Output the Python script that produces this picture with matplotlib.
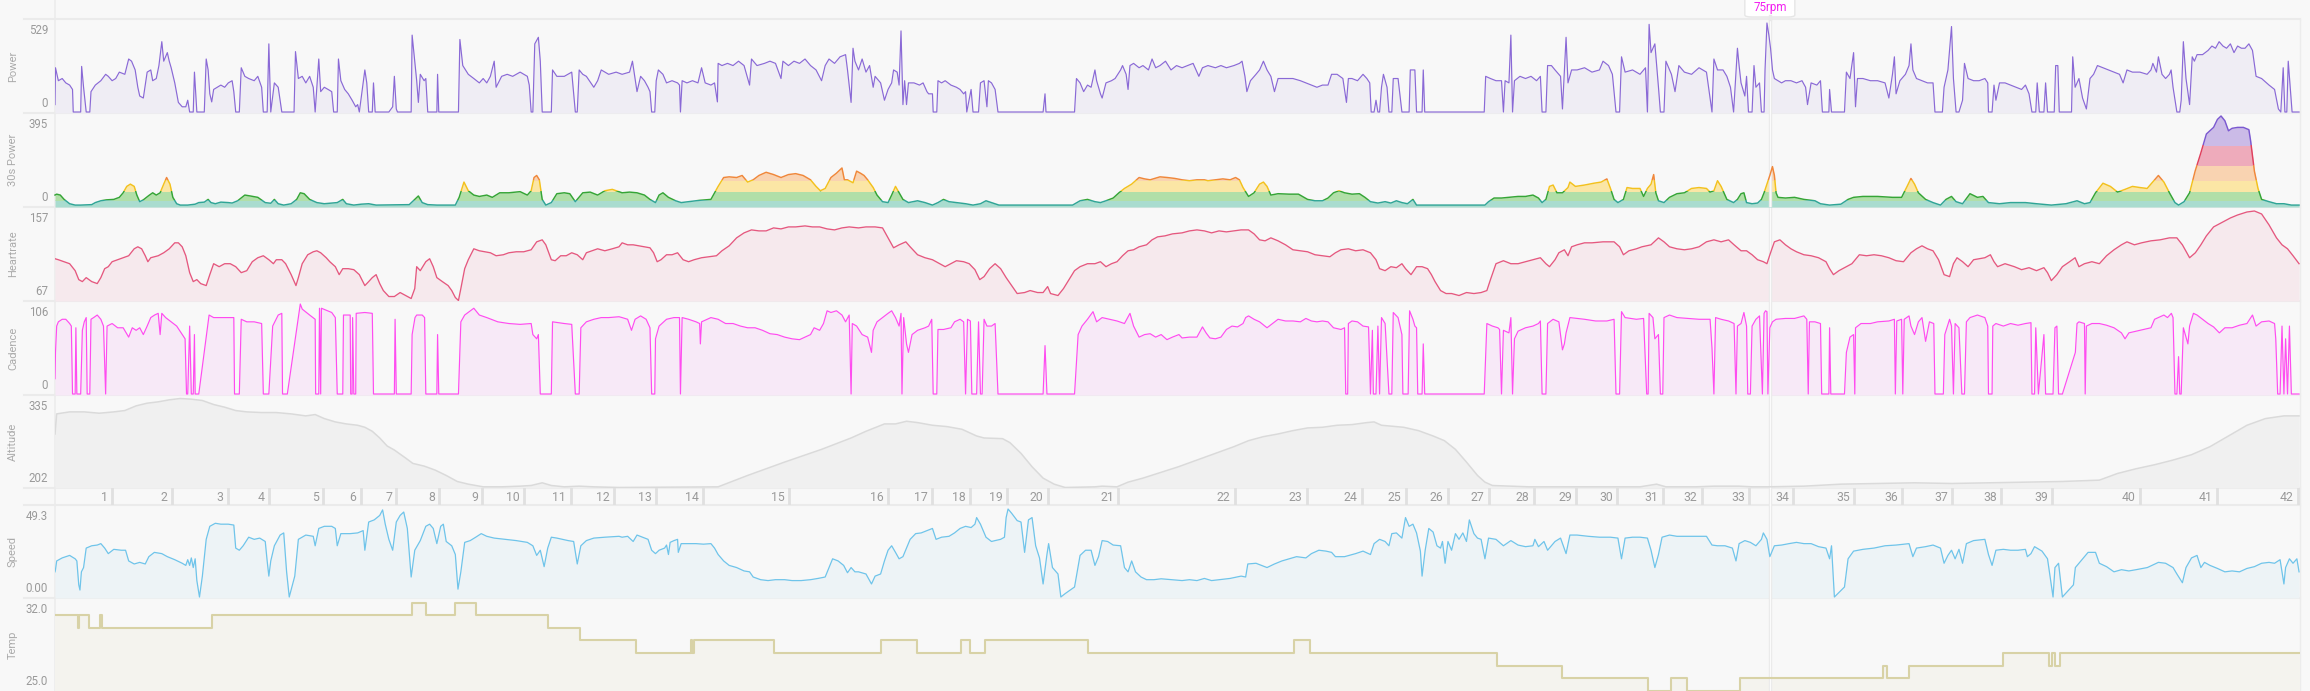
import numpy as np
import matplotlib
matplotlib.use("Agg")
import matplotlib.pyplot as plt
from matplotlib.patches import Rectangle, FancyBboxPatch
from matplotlib.lines import Line2D

plt.rcParams['font.family'] = ['Roboto', 'DejaVu Sans']

# ride length in minutes, lap ends in minutes
T_END = 93.54
lap_end = [2.38, 4.88, 7.19, 8.91, 11.16, 12.73, 14.22, 16.0, 17.81, 19.56, 21.48,
           23.31, 25.06, 26.99, 30.59, 34.69, 36.56, 38.14, 39.66, 41.36, 44.31,
           49.15, 52.15, 54.44, 56.29, 58.02, 59.73, 61.61, 63.38, 65.10, 66.99,
           68.62, 70.58, 72.42, 74.96, 76.96, 79.04, 81.08, 83.21, 86.88, 90.08, 93.46]
lap_names = [str(i + 1) for i in range(len(lap_end))]
marker_t = 71.45
marker_text = "75rpm"

# (minute, watts)
power = [
    (0.00, 44), (0.02, 263), (0.14, 186), (0.30, 199), (0.45, 173), (0.61, 160), (0.73, 134), (0.76, 0),
    (1.07, 0), (1.11, 271), (1.19, 147), (1.30, 0), (1.45, 0), (1.50, 121), (1.68, 160), (1.91, 186),
    (2.11, 224), (2.22, 212), (2.38, 186), (2.53, 199), (2.68, 237), (2.91, 224), (3.07, 315), (3.19, 302),
    (3.34, 250), (3.45, 147), (3.53, 95), (3.68, 83), (3.84, 237), (3.99, 250), (4.07, 186), (4.22, 199),
    (4.33, 276), (4.45, 418), (4.53, 302), (4.68, 353), (4.76, 302), (4.84, 263), (4.99, 173), (5.14, 57),
    (5.30, 31), (5.45, 31), (5.53, 70), (5.61, 0), (5.76, 0), (5.81, 237), (5.91, 0), (6.22, 0),
    (6.30, 315), (6.38, 250), (6.45, 108), (6.53, 60), (6.61, 134), (6.76, 147), (6.91, 160), (7.07, 147),
    (7.22, 173), (7.38, 186), (7.45, 121), (7.53, 0), (7.68, 0), (7.76, 263), (7.91, 212), (8.07, 199),
    (8.30, 186), (8.45, 212), (8.61, 147), (8.68, 0), (8.84, 0), (8.91, 405), (8.99, 0), (9.14, 173),
    (9.30, 147), (9.45, 0), (9.96, 0), (10.02, 359), (10.14, 199), (10.30, 212), (10.45, 173), (10.61, 212),
    (10.76, 147), (10.84, 0), (10.99, 315), (11.07, 121), (11.22, 147), (11.38, 134), (11.53, 121), (11.61, 0),
    (11.76, 0), (11.81, 315), (11.91, 186), (12.07, 134), (12.22, 108), (12.38, 70), (12.53, 31), (12.61, 44),
    (12.68, 0), (12.91, 250), (12.99, 173), (13.07, 0), (13.22, 0), (13.27, 173), (13.34, 0), (13.91, 0),
    (14.07, 31), (14.14, 212), (14.22, 18), (14.27, 0), (14.84, 0), (14.88, 457), (14.99, 302), (15.07, 186),
    (15.14, 57), (15.22, 224), (15.38, 186), (15.45, 199), (15.53, 0), (15.91, 0), (15.94, 224), (15.99, 0),
    (16.81, 0), (16.87, 431), (16.99, 276), (17.22, 224), (17.45, 199), (17.68, 173), (17.84, 199), (17.99, 173),
    (18.14, 212), (18.30, 302), (18.38, 147), (18.61, 212), (18.84, 224), (19.07, 212), (19.38, 237), (19.68, 212),
    (19.76, 160), (19.84, 0), (19.91, 0), (19.99, 405), (20.14, 444), (20.22, 302), (20.30, 0), (20.68, 0),
    (20.73, 250), (20.91, 212), (21.22, 212), (21.53, 237), (21.68, 0), (21.76, 0), (21.84, 250), (21.99, 224),
    (22.14, 212), (22.45, 147), (22.61, 186), (22.76, 250), (23.07, 224), (23.38, 237),
    (23.63, 224), (23.94, 237), (24.06, 302), (24.17, 199), (24.25, 121), (24.40, 212), (24.56, 186), (24.71, 147),
    (24.79, 121), (24.86, 0), (24.99, 0), (25.05, 186), (25.14, 250), (25.33, 224), (25.48, 173), (25.71, 186),
    (25.94, 173), (26.02, 160), (26.06, 0), (26.13, 186), (26.33, 173), (26.56, 186), (26.79, 173), (26.94, 263),
    (27.09, 173), (27.33, 160), (27.48, 173), (27.60, 60), (27.63, 289), (27.79, 276), (28.02, 289), (28.25, 276),
    (28.48, 302), (28.71, 276), (28.94, 160), (29.02, 315), (29.25, 276), (29.56, 289), (29.79, 302), (30.02, 289),
    (30.25, 199), (30.33, 302), (30.56, 276), (30.79, 302), (31.02, 289), (31.25, 315), (31.48, 276), (31.71, 250),
    (31.94, 186), (32.09, 276), (32.25, 315), (32.48, 289), (32.71, 328), (32.94, 341), (33.02, 250), (33.17, 57),
    (33.25, 379), (33.33, 302), (33.48, 250), (33.63, 315), (33.79, 237), (33.94, 276), (34.09, 147), (34.17, 212),
    (34.40, 173), (34.48, 121), (34.56, 70), (34.71, 134), (34.86, 173), (34.94, 250), (35.09, 237), (35.17, 160),
    (35.25, 482), (35.33, 44), (35.40, 186), (35.48, 44), (35.56, 173), (35.79, 173), (36.02, 160), (36.17, 173),
    (36.33, 121), (36.40, 108), (36.56, 108), (36.59, 0), (36.74, 0), (36.79, 186), (36.94, 173), (37.09, 186),
    (37.33, 160), (37.56, 147), (37.71, 134), (37.86, 108), (37.94, 121), (37.99, 0), (38.17, 134), (38.25, 0),
    (38.48, 0), (38.56, 173), (38.71, 186), (38.83, 31), (38.89, 186), (39.02, 173), (39.17, 134), (39.29, 0),
    (41.17, 0), (41.25, 108), (41.29, 0), (42.48, 0), (42.56, 199), (42.71, 173), (42.86, 121), (43.02, 160),
    (43.17, 147), (43.33, 250), (43.40, 186), (43.56, 108), (43.63, 83), (43.79, 173), (44.02, 186), (44.17, 199),
    (44.40, 250), (44.48, 276), (44.63, 224), (44.71, 134), (44.79, 276), (44.94, 289), (45.17, 263), (45.33, 276),
    (45.56, 250), (45.71, 315), (45.86, 263),
    (46.04, 276), (46.27, 302), (46.50, 250), (46.73, 276), (46.96, 263), (47.19, 276), (47.42, 289), (47.66, 212),
    (47.81, 263), (48.04, 276), (48.35, 263), (48.58, 276), (48.81, 263), (49.12, 276), (49.35, 289), (49.46, 302),
    (49.58, 212), (49.66, 121), (49.81, 186), (50.04, 224), (50.19, 250), (50.35, 302), (50.50, 250), (50.66, 212),
    (50.81, 121), (50.96, 199), (51.27, 199), (51.58, 199), (51.89, 186), (52.12, 173), (52.35, 160), (52.58, 147),
    (52.81, 160), (53.04, 160), (53.19, 224), (53.42, 224), (53.66, 199), (53.81, 57), (53.89, 199), (54.04, 199),
    (54.27, 186), (54.50, 224), (54.66, 199), (54.78, 173), (54.84, 0), (54.96, 0), (55.04, 70), (55.12, 0),
    (55.19, 0), (55.27, 147), (55.35, 224), (55.50, 147), (55.58, 0), (55.70, 0), (55.76, 199), (55.96, 199),
    (56.12, 0), (56.42, 0), (56.47, 250), (56.66, 250), (56.73, 0), (56.96, 0), (57.01, 250), (57.07, 0),
    (59.55, 0), (59.61, 212), (59.81, 199), (60.04, 186), (60.27, 186), (60.35, 0), (60.42, 186), (60.58, 173),
    (60.66, 457), (60.73, 0), (60.81, 186), (61.04, 212), (61.27, 199), (61.50, 212), (61.73, 186), (61.89, 212),
    (61.96, 0), (62.12, 0), (62.19, 276), (62.35, 276), (62.50, 250), (62.73, 212), (62.81, 18), (62.96, 444),
    (63.04, 173), (63.19, 250), (63.42, 250), (63.73, 263), (64.04, 237), (64.35, 250), (64.50, 302), (64.73, 276),
    (64.89, 224), (65.04, 0), (65.19, 0), (65.27, 328), (65.42, 237), (65.73, 250), (66.04, 224), (66.27, 263),
    (66.35, 0), (66.42, 521), (66.50, 353), (66.66, 405), (66.81, 147), (66.89, 0), (67.04, 0), (67.12, 302),
    (67.35, 224), (67.50, 121), (67.66, 276), (67.89, 237), (68.19, 224), (68.50, 263), (68.81, 237), (69.04, 0),
    (69.12, 315), (69.27, 250), (69.50, 250), (69.66, 212), (69.81, 147),
    (69.94, 0), (70.10, 379), (70.17, 276), (70.25, 173), (70.41, 95), (70.48, 212), (70.56, 0), (70.71, 0),
    (70.79, 276), (70.87, 147), (71.02, 173), (71.10, 0), (71.21, 0), (71.25, 250), (71.33, 529), (71.41, 457),
    (71.48, 379), (71.56, 250), (71.64, 199), (71.79, 186), (71.94, 173), (72.10, 186), (72.33, 186), (72.56, 173),
    (72.79, 186), (72.94, 147), (73.02, 44), (73.17, 173), (73.41, 160), (73.56, 186), (73.64, 0), (73.91, 0),
    (73.94, 134), (74.02, 0), (74.56, 0), (74.64, 237), (74.79, 199), (74.94, 353), (75.02, 31), (75.10, 199),
    (75.33, 199), (75.64, 186), (75.94, 186), (76.25, 173), (76.41, 83), (76.56, 224), (76.64, 328), (76.71, 108),
    (76.87, 186), (77.10, 224), (77.25, 276), (77.33, 405), (77.41, 250), (77.56, 199), (77.79, 186), (78.02, 173),
    (78.25, 173), (78.33, 0), (78.64, 0), (78.71, 147), (78.87, 250), (79.02, 508), (79.10, 199), (79.21, 0),
    (79.33, 0), (79.48, 70), (79.56, 289), (79.71, 199), (79.94, 186), (80.17, 186), (80.41, 199), (80.53, 173),
    (80.56, 0), (80.71, 0), (80.79, 160), (80.87, 70), (81.02, 173), (81.25, 173), (81.48, 160), (81.71, 147),
    (81.94, 134), (82.10, 160), (82.25, 108), (82.37, 0), (82.53, 0), (82.59, 173), (82.68, 0), (82.87, 0),
    (82.94, 173), (83.02, 0), (83.30, 0), (83.36, 276), (83.45, 276), (83.51, 0), (84.02, 0), (84.07, 328),
    (84.17, 147), (84.33, 199), (84.48, 83), (84.64, 18), (84.79, 199), (84.94, 224), (85.10, 276), (85.33, 263),
    (85.56, 250), (85.79, 237), (86.02, 224), (86.17, 173), (86.33, 250), (86.56, 237), (86.87, 237), (87.17, 224),
    (87.33, 250), (87.41, 289), (87.56, 237), (87.64, 328), (87.79, 224), (87.94, 199), (88.10, 224), (88.17, 250),
    (88.25, 147), (88.41, 0), (88.53, 0), (88.59, 70), (88.68, 418), (88.79, 199), (88.94, 44), (89.05, 328),
    (89.14, 302), (89.25, 341), (89.48, 341), (89.71, 366), (89.87, 392), (90.02, 379), (90.17, 418), (90.33, 392),
    (90.48, 379), (90.64, 405), (90.79, 353), (90.94, 392), (91.10, 379), (91.25, 379), (91.41, 405), (91.56, 366),
    (91.71, 212), (91.94, 199), (92.25, 160), (92.48, 134), (92.64, 18), (92.74, 0), (92.84, 263), (92.91, 0),
    (92.99, 0), (93.05, 302), (93.21, 0), (93.50, 0),
]

# (minute, 30 s average watts)
power30 = [
    (0.00, 48), (0.07, 52), (0.22, 48), (0.38, 29), (0.61, 10), (0.84, 4), (1.07, 4), (1.53, 6), (1.68, 15),
    (1.91, 23), (2.14, 27), (2.45, 29), (2.68, 38), (2.84, 58), (2.99, 86), (3.14, 96), (3.30, 86), (3.41, 48),
    (3.53, 19), (3.68, 27), (3.91, 46), (4.07, 58), (4.22, 48), (4.38, 58), (4.53, 96), (4.65, 125), (4.79, 96),
    (4.91, 38), (5.07, 10), (5.22, 4), (5.53, 4), (5.84, 8), (5.99, 15), (6.22, 17), (6.38, 29), (6.50, 15),
    (6.68, 10), (6.91, 17), (7.22, 15), (7.38, 13), (7.61, 23), (7.91, 48), (8.14, 44), (8.45, 38), (8.76, 15),
    (8.99, 12), (9.14, 29), (9.30, 10), (9.53, 4), (9.84, 10), (10.07, 29), (10.22, 58), (10.38, 54), (10.61, 29),
    (10.91, 15), (11.22, 10), (11.53, 13), (11.76, 15), (11.99, 29), (12.14, 10), (12.45, 4), (12.76, 8), (13.07, 10),
    (13.38, 4), (14.76, 6), (14.99, 29), (15.14, 44), (15.30, 15), (15.53, 6), (15.91, 4), (16.68, 4), (16.84, 38),
    (17.04, 105), (17.22, 67), (17.45, 48), (17.68, 42), (17.99, 48), (18.22, 38), (18.53, 58), (18.91, 58),
    (19.38, 63), (19.68, 48), (19.84, 67), (19.96, 125), (20.07, 134), (20.18, 115), (20.30, 29), (20.45, 4),
    (20.68, 15), (20.91, 54), (21.22, 58), (21.45, 54), (21.68, 19), (21.99, 58), (22.30, 61), (22.61, 48),
    (22.91, 67), (23.22, 73), (23.63, 58), (23.94, 61), (24.25, 58), (24.56, 48), (24.79, 29), (25.02, 15),
    (25.17, 48), (25.33, 58), (25.56, 38), (25.86, 23), (26.09, 15), (26.40, 19), (26.86, 25), (27.33, 29),
    (27.48, 58), (27.63, 86), (27.86, 125), (28.09, 128), (28.40, 125), (28.63, 134), (28.86, 105), (29.09, 115),
    (29.33, 134), (29.63, 148), (29.94, 138), (30.25, 125), (30.56, 138), (30.86, 142), (31.17, 134), (31.48, 115),
    (31.71, 86), (31.89, 67), (32.09, 77), (32.33, 125), (32.56, 144), (32.79, 167), (32.89, 115), (33.02, 115),
    (33.25, 102), (33.40, 153), (33.56, 144), (33.71, 134), (33.86, 115), (34.09, 81), (34.25, 48), (34.48, 19),
    (34.71, 15), (34.86, 48), (35.02, 86), (35.17, 58), (35.33, 29), (35.56, 15), (35.94, 23), (36.25, 15),
    (36.56, 4), (36.79, 15), (37.02, 29), (37.25, 19), (37.56, 15), (37.94, 10), (38.25, 4), (38.56, 10),
    (38.79, 23), (39.02, 15), (39.33, 4), (42.40, 4), (42.71, 23), (43.02, 29), (43.33, 19), (43.56, 15),
    (43.79, 23), (44.09, 35), (44.33, 58), (44.56, 77), (44.86, 96), (45.17, 125), (45.40, 119), (45.63, 115),
    (45.94, 125), (46.04, 128), (46.35, 125), (46.66, 121), (46.96, 115), (47.27, 111), (47.58, 115), (47.89, 115),
    (48.04, 111), (48.35, 115), (48.66, 119), (48.96, 115), (49.19, 125), (49.35, 115), (49.50, 81), (49.73, 42),
    (49.96, 58), (50.19, 96), (50.35, 105), (50.50, 86), (50.66, 48), (50.96, 54), (51.42, 52), (51.81, 52),
    (52.19, 29), (52.50, 23), (52.81, 23), (53.04, 35), (53.27, 58), (53.50, 67), (53.73, 58), (54.04, 52),
    (54.35, 54), (54.58, 38), (54.81, 19), (55.12, 13), (55.42, 19), (55.66, 13), (55.89, 23), (56.12, 15),
    (56.35, 10), (56.58, 29), (56.73, 4), (57.12, 4), (59.58, 4), (59.73, 19), (59.96, 35), (60.27, 35),
    (60.58, 38), (60.96, 42), (61.27, 42), (61.58, 48), (61.81, 35), (61.96, 15), (62.12, 29), (62.27, 86),
    (62.42, 92), (62.58, 58), (62.81, 58), (63.04, 81), (63.12, 105), (63.35, 86), (63.73, 92), (64.12, 100),
    (64.42, 105), (64.66, 119), (64.81, 77), (64.96, 29), (65.12, 15), (65.35, 29), (65.50, 81), (65.73, 77),
    (66.04, 77), (66.19, 42), (66.35, 77), (66.50, 96), (66.61, 138), (66.70, 58), (66.81, 23), (67.04, 15),
    (67.27, 38), (67.58, 54), (67.89, 58), (68.19, 77), (68.50, 81), (68.81, 77), (68.96, 61), (69.12, 67),
    (69.27, 111), (69.42, 86), (69.66, 29), (69.94, 15), (70.10, 29), (70.25, 54), (70.37, 58), (70.48, 15),
    (70.71, 10), (70.94, 13), (71.10, 29), (71.21, 58), (71.33, 96), (71.45, 134), (71.56, 173), (71.64, 134),
    (71.71, 58), (71.79, 38), (72.10, 35), (72.48, 38), (72.87, 29), (73.33, 23), (73.56, 10), (73.94, 4),
    (74.41, 8), (74.71, 29), (74.94, 38), (75.33, 42), (75.94, 42), (76.56, 38), (76.94, 38), (77.17, 86),
    (77.33, 121), (77.48, 96), (77.64, 58), (77.94, 29), (78.25, 15), (78.56, 4), (78.79, 29), (79.02, 42),
    (79.21, 19), (79.48, 10), (79.79, 54), (80.10, 38), (80.33, 42), (80.56, 15), (81.02, 10), (81.48, 15),
    (82.10, 15), (82.56, 10), (83.18, 4), (83.79, 10), (84.25, 23), (84.56, 10), (84.79, 15), (85.02, 58),
    (85.33, 100), (85.64, 86), (85.94, 61), (86.25, 73), (86.56, 86), (86.87, 81), (87.17, 77), (87.48, 115),
    (87.64, 134), (87.87, 105), (88.10, 58), (88.33, 15), (88.48, 4), (88.71, 19), (88.94, 58), (89.17, 153),
    (89.40, 230), (89.64, 316), (89.94, 345), (90.10, 380), (90.25, 395), (90.41, 374), (90.56, 330), (90.71, 341),
    (90.94, 345), (91.18, 345), (91.41, 335), (91.48, 288), (91.64, 153), (91.79, 77), (91.94, 29), (92.25, 19),
    (92.56, 10), (92.87, 10), (93.18, 4), (93.50, 4),
]
zone_top = [26, 65, 113, 180, 269]

# (minute, bpm)
heartrate = [
    (0.00, 109), (0.14, 108), (0.38, 106), (0.61, 104), (0.84, 97), (0.99, 88), (1.14, 86), (1.30, 90), (1.53, 86),
    (1.76, 84), (1.91, 90), (2.07, 99), (2.22, 101), (2.38, 106), (2.61, 108), (2.84, 110), (3.07, 112), (3.30, 119),
    (3.45, 121), (3.61, 119), (3.76, 112), (3.87, 106), (3.99, 110), (4.30, 112), (4.53, 115), (4.76, 119), (4.99, 125),
    (5.14, 125), (5.30, 121), (5.45, 112), (5.61, 95), (5.76, 86), (5.91, 88), (6.07, 84), (6.30, 82), (6.45, 93),
    (6.61, 104), (6.84, 101), (7.07, 104), (7.30, 104), (7.53, 101), (7.76, 95), (7.99, 97), (8.22, 106), (8.45, 110),
    (8.68, 112), (8.91, 108), (9.10, 104), (9.22, 108), (9.45, 108), (9.61, 104), (9.84, 93), (10.04, 82), (10.14, 90),
    (10.30, 104), (10.53, 113), (10.76, 116), (10.91, 117), (11.07, 115), (11.30, 110), (11.45, 106), (11.68, 101),
    (11.84, 93), (11.99, 99), (12.22, 99), (12.45, 98), (12.68, 93), (12.91, 82), (13.07, 86), (13.22, 90), (13.38, 93),
    (13.53, 84), (13.68, 77), (13.91, 71), (14.14, 71), (14.38, 75), (14.61, 72), (14.84, 69), (14.99, 79), (15.07, 101),
    (15.22, 97), (15.45, 106), (15.61, 109), (15.76, 101), (15.91, 90), (16.14, 86), (16.38, 82), (16.53, 77),
    (16.68, 70), (16.81, 67), (16.91, 79), (17.07, 99), (17.22, 108), (17.45, 119), (17.68, 117), (17.91, 116),
    (18.14, 115), (18.38, 112), (18.68, 113), (18.91, 115), (19.22, 116), (19.53, 116), (19.84, 118), (20.07, 126),
    (20.30, 128), (20.45, 123), (20.68, 108), (20.84, 107), (21.07, 112), (21.30, 112), (21.53, 115), (21.76, 113),
    (21.99, 108), (22.14, 115), (22.38, 117), (22.61, 119), (22.91, 117), (23.22, 119), (23.50, 121),
    (23.63, 125), (23.86, 123), (24.09, 123), (24.33, 122), (24.56, 121), (24.79, 120), (24.94, 115), (25.09, 106),
    (25.25, 108), (25.48, 113), (25.71, 113), (25.94, 115), (26.17, 108), (26.40, 106), (26.63, 108), (26.94, 110),
    (27.25, 111), (27.56, 112), (27.79, 117), (28.09, 122), (28.40, 130), (28.71, 135), (29.02, 138), (29.33, 137),
    (29.63, 137), (29.94, 140), (30.25, 139), (30.56, 141), (30.86, 141), (31.25, 142), (31.56, 141), (31.86, 141),
    (32.17, 139), (32.48, 138), (32.79, 140), (33.09, 141), (33.48, 140), (33.79, 141), (34.17, 141), (34.48, 140),
    (34.71, 130), (34.94, 120), (35.17, 123), (35.45, 126), (35.63, 121), (35.94, 113), (36.25, 110), (36.56, 108),
    (36.86, 104), (37.09, 101), (37.33, 104), (37.56, 107), (37.86, 106), (38.09, 104), (38.33, 98), (38.53, 88),
    (38.71, 91), (38.94, 99), (39.17, 104), (39.40, 99), (39.63, 90), (39.86, 82), (40.09, 74), (40.40, 75),
    (40.63, 77), (40.94, 75), (41.17, 75), (41.36, 81), (41.48, 74), (41.79, 72), (42.02, 79), (42.25, 88),
    (42.48, 97), (42.71, 101), (43.02, 104), (43.33, 104), (43.56, 106), (43.79, 101), (44.02, 104), (44.25, 106),
    (44.48, 112), (44.71, 117), (44.94, 118), (45.17, 121), (45.48, 123), (45.71, 128), (45.94, 131), (46.25, 132),
    (46.56, 134), (46.96, 135), (47.27, 137), (47.58, 138), (47.89, 137), (48.19, 135), (48.50, 137), (48.81, 136),
    (49.12, 137), (49.42, 138), (49.73, 138), (49.96, 134), (50.19, 128), (50.42, 127), (50.66, 130), (50.96, 127),
    (51.27, 123), (51.58, 118), (51.89, 117), (52.19, 116), (52.50, 113), (52.81, 112), (53.12, 111), (53.35, 115),
    (53.58, 118), (53.89, 119), (54.19, 117), (54.50, 118), (54.81, 115), (55.04, 108), (55.19, 99), (55.42, 97),
    (55.66, 101), (55.89, 100), (56.12, 104), (56.27, 99), (56.50, 93), (56.73, 101), (56.96, 101), (57.19, 99),
    (57.35, 93), (57.50, 86), (57.73, 77), (57.96, 74), (58.19, 74), (58.50, 72), (58.81, 75), (59.12, 74),
    (59.42, 75), (59.66, 77), (59.81, 88), (60.04, 104), (60.35, 107), (60.66, 104), (60.96, 104), (61.27, 106),
    (61.58, 108), (61.89, 110), (62.12, 104), (62.27, 101), (62.50, 108), (62.66, 115), (62.89, 118), (63.04, 112),
    (63.19, 121), (63.42, 123), (63.73, 125), (64.04, 125), (64.50, 126), (64.96, 126), (65.19, 121), (65.35, 113),
    (65.58, 117), (65.89, 119), (66.12, 121), (66.50, 123), (66.81, 130), (67.04, 126), (67.27, 121), (67.58, 119),
    (67.89, 118), (68.19, 119), (68.50, 121), (68.81, 126), (69.12, 128), (69.42, 126), (69.73, 128), (69.96, 123),
    (70.25, 117), (70.48, 117), (70.71, 113), (70.94, 108), (71.18, 106), (71.33, 104), (71.48, 115), (71.64, 126),
    (71.87, 128), (72.10, 123), (72.33, 119), (72.56, 116), (72.87, 113), (73.17, 112), (73.48, 110), (73.79, 106),
    (73.94, 99), (74.10, 93), (74.33, 97), (74.56, 100), (74.87, 104), (75.18, 113), (75.48, 112), (75.79, 113),
    (76.10, 112), (76.41, 110), (76.71, 107), (77.02, 106), (77.33, 115), (77.56, 119), (77.79, 122), (78.02, 119),
    (78.25, 117), (78.48, 108), (78.71, 93), (78.94, 91), (79.10, 104), (79.25, 110), (79.48, 106), (79.71, 101),
    (79.94, 108), (80.17, 109), (80.41, 110), (80.64, 113), (80.79, 106), (80.94, 101), (81.25, 104), (81.64, 101),
    (81.94, 98), (82.25, 100), (82.56, 97), (82.87, 100), (83.02, 95), (83.18, 87), (83.41, 93), (83.64, 101),
    (83.94, 106), (84.17, 110), (84.33, 101), (84.56, 104), (84.87, 106), (85.18, 104), (85.48, 112), (85.79, 118),
    (86.10, 123), (86.33, 126), (86.64, 123), (86.94, 125), (87.33, 127), (87.71, 128), (88.10, 130), (88.41, 130),
    (88.64, 123), (88.94, 110), (89.18, 115), (89.41, 123), (89.64, 132), (89.94, 141), (90.25, 145), (90.64, 150),
    (90.94, 153), (91.33, 156), (91.64, 157), (91.94, 154), (92.25, 143), (92.56, 130), (92.79, 123), (93.02, 119),
    (93.25, 112), (93.50, 104),
]

# (minute, rpm)
cadence = [
    (0.00, 18), (0.02, 49), (0.07, 80), (0.14, 85), (0.30, 88), (0.45, 88), (0.61, 83), (0.68, 80), (0.73, 0),
    (0.84, 0), (0.87, 78), (0.91, 0), (1.07, 0), (1.14, 75), (1.22, 85), (1.30, 90), (1.34, 0), (1.45, 0),
    (1.50, 88), (1.61, 90), (1.76, 93), (1.91, 88), (2.02, 80), (2.11, 0), (2.17, 80), (2.38, 83), (2.61, 78),
    (2.84, 78), (3.07, 67), (3.22, 78), (3.38, 75), (3.53, 78), (3.68, 70), (3.84, 80), (3.99, 90), (4.15, 93),
    (4.30, 95), (4.38, 70), (4.45, 95), (4.61, 90), (4.84, 85), (5.07, 80), (5.30, 70), (5.42, 65), (5.48, 0),
    (5.53, 0), (5.61, 80), (5.68, 0), (5.76, 0), (5.81, 70), (5.84, 0), (5.99, 0), (6.42, 93), (6.61, 90),
    (6.91, 90), (7.22, 90), (7.45, 90), (7.48, 0), (7.68, 0), (7.76, 88), (7.99, 85), (8.30, 85), (8.61, 83),
    (8.68, 0), (8.91, 0), (9.07, 80), (9.30, 93), (9.45, 95), (9.48, 0), (9.68, 0), (10.22, 106), (10.30, 100),
    (10.61, 93), (10.84, 88), (10.86, 0), (10.99, 0), (11.02, 101), (11.07, 0), (11.10, 101), (11.53, 96),
    (11.68, 90), (11.76, 0), (11.99, 0), (12.02, 93), (12.30, 93), (12.32, 0), (12.38, 0), (12.40, 90), (12.45, 0),
    (12.53, 0), (12.55, 95), (12.91, 96), (13.22, 95), (13.27, 0), (14.14, 0), (14.17, 88), (14.22, 0), (14.84, 0),
    (14.88, 70), (15.00, 90), (15.07, 93), (15.30, 93), (15.40, 90), (15.45, 0), (15.91, 0), (15.94, 70), (15.99, 0),
    (16.81, 0), (16.91, 85), (17.07, 93), (17.45, 101), (17.68, 93), (17.99, 90), (18.45, 85), (18.91, 83),
    (19.38, 82), (19.84, 83), (19.91, 70), (20.07, 65), (20.14, 70), (20.22, 0), (20.68, 0), (20.73, 85),
    (21.22, 83), (21.53, 82), (21.68, 0), (21.84, 0), (21.91, 78), (22.14, 85), (22.45, 88), (22.76, 90),
    (23.07, 90), (23.50, 91),
    (23.63, 90), (23.86, 88), (24.02, 75), (24.17, 88), (24.40, 92), (24.63, 88), (24.79, 78), (24.86, 0),
    (24.99, 0), (25.02, 65), (25.17, 80), (25.48, 88), (25.79, 90), (26.02, 90), (26.06, 0), (26.13, 90),
    (26.40, 88), (26.71, 85), (26.86, 83), (26.89, 59), (26.94, 85), (27.33, 90), (27.63, 88), (27.94, 83),
    (28.25, 83), (28.56, 80), (28.86, 78), (29.17, 78), (29.48, 75), (29.79, 71), (30.09, 70), (30.40, 67),
    (30.71, 65), (31.02, 64), (31.25, 67), (31.48, 70), (31.63, 78), (31.86, 75), (32.02, 83), (32.17, 98),
    (32.33, 96), (32.56, 98), (32.79, 93), (32.94, 85), (33.09, 93), (33.17, 0), (33.22, 83), (33.40, 80),
    (33.63, 70), (33.86, 67), (34.02, 49), (34.09, 75), (34.25, 85), (34.48, 90), (34.71, 95), (34.86, 98),
    (35.02, 90), (35.17, 80), (35.25, 95), (35.29, 0), (35.36, 90), (35.48, 59), (35.56, 49), (35.71, 70),
    (35.94, 75), (36.25, 78), (36.40, 80), (36.53, 88), (36.59, 0), (36.74, 0), (36.79, 76), (37.02, 76),
    (37.33, 78), (37.48, 85), (37.71, 88), (37.86, 85), (37.94, 0), (38.02, 88), (38.14, 86), (38.20, 0),
    (38.40, 0), (38.48, 85), (38.56, 0), (38.63, 0), (38.71, 88), (38.83, 80), (39.02, 80), (39.17, 83),
    (39.29, 0), (41.17, 0), (41.25, 57), (41.33, 0), (42.48, 0), (42.63, 70), (42.79, 80), (43.02, 88),
    (43.25, 97), (43.40, 85), (43.63, 90), (43.94, 88), (44.25, 86), (44.56, 83), (44.79, 95), (44.94, 80),
    (45.17, 67), (45.40, 70), (45.63, 71), (45.86, 67), (46.09, 70), (46.33, 64), (46.56, 67), (46.83, 70),
    (46.96, 66), (47.27, 67), (47.58, 67), (47.81, 79), (47.96, 72), (48.12, 66), (48.35, 65), (48.58, 67),
    (48.81, 76), (49.04, 80), (49.27, 79), (49.50, 83), (49.61, 90), (49.73, 92), (49.96, 88), (50.19, 85),
    (50.50, 78), (50.73, 83), (50.96, 88), (51.27, 86), (51.58, 86), (51.89, 85), (52.12, 89), (52.35, 86),
    (52.58, 85), (52.81, 86), (53.04, 85), (53.27, 78), (53.58, 76), (53.73, 78), (53.78, 0), (53.86, 0),
    (53.89, 83), (54.04, 86), (54.27, 85), (54.50, 80), (54.73, 79), (54.81, 0), (54.89, 75), (54.93, 0),
    (55.04, 0), (55.12, 80), (55.19, 0), (55.27, 90), (55.42, 83), (55.58, 0), (55.70, 0), (55.76, 96),
    (55.96, 90), (56.12, 70), (56.16, 0), (56.38, 0), (56.44, 98), (56.58, 88), (56.66, 80), (56.73, 78),
    (56.78, 0), (56.96, 0), (57.01, 59), (57.07, 0), (59.55, 0), (59.66, 83), (59.89, 80), (60.12, 78),
    (60.19, 76), (60.27, 0), (60.35, 75), (60.58, 72), (60.66, 90), (60.73, 0), (60.81, 65), (60.96, 74),
    (61.27, 78), (61.58, 80), (61.81, 83), (61.89, 86), (61.96, 0), (62.12, 0), (62.19, 83), (62.42, 88),
    (62.66, 85), (62.81, 52), (62.89, 59), (62.96, 72), (63.12, 90), (63.42, 89), (63.73, 88), (64.19, 86),
    (64.66, 86), (64.96, 88), (65.04, 0), (65.19, 0), (65.27, 97), (65.42, 90), (65.89, 88), (66.19, 89),
    (66.32, 0), (66.38, 0), (66.42, 95), (66.58, 90), (66.66, 65), (66.81, 70), (66.89, 0), (66.99, 0),
    (67.04, 90), (67.27, 93), (67.58, 90), (68.04, 89), (68.50, 88), (68.96, 88), (69.04, 54), (69.12, 0),
    (69.19, 90), (69.42, 88), (69.73, 86), (69.96, 83), (70.04, 0),
    (70.10, 80), (70.25, 83), (70.37, 96), (70.48, 80), (70.53, 0), (70.64, 0), (70.71, 80), (70.87, 88),
    (71.02, 92), (71.14, 0), (71.21, 95), (71.27, 98), (71.33, 97), (71.37, 0), (71.45, 78), (71.56, 85),
    (71.71, 88), (72.10, 89), (72.48, 89), (72.87, 92), (72.99, 88), (73.05, 0), (73.10, 85), (73.33, 85),
    (73.56, 83), (73.61, 0), (73.91, 0), (73.94, 78), (73.99, 0), (74.56, 0), (74.64, 49), (74.79, 67),
    (74.94, 70), (74.99, 0), (75.02, 78), (75.25, 83), (75.64, 83), (75.94, 85), (76.41, 86), (76.64, 88),
    (76.68, 0), (76.74, 86), (76.94, 88), (76.99, 0), (77.05, 88), (77.25, 92), (77.33, 80), (77.48, 70),
    (77.64, 85), (77.79, 90), (77.94, 62), (78.10, 85), (78.28, 83), (78.33, 0), (78.68, 0), (78.74, 70),
    (78.94, 88), (79.02, 80), (79.10, 0), (79.17, 83), (79.33, 78), (79.45, 0), (79.56, 0), (79.64, 85),
    (79.79, 90), (80.10, 93), (80.41, 90), (80.53, 80), (80.56, 0), (80.71, 0), (80.74, 80), (80.87, 83),
    (81.18, 80), (81.48, 83), (81.79, 81), (82.10, 83), (82.33, 84), (82.37, 0), (82.48, 0), (82.53, 78),
    (82.64, 0), (82.87, 70), (82.94, 0), (83.25, 0), (83.33, 78), (83.41, 80), (83.48, 0), (83.64, 0),
    (84.18, 49), (84.25, 83), (84.33, 85), (84.56, 83), (84.59, 0), (84.64, 80), (84.87, 83), (85.18, 83),
    (85.48, 81), (85.79, 78), (86.10, 72), (86.25, 65), (86.41, 72), (86.71, 74), (87.02, 76), (87.33, 78),
    (87.48, 88), (87.64, 90), (87.87, 93), (88.02, 90), (88.18, 95), (88.25, 90), (88.33, 0), (88.41, 0),
    (88.48, 44), (88.53, 0), (88.59, 0), (88.68, 78), (88.87, 59), (88.94, 80), (89.10, 95), (89.25, 93),
    (89.48, 88), (89.71, 83), (89.94, 79), (90.18, 72), (90.41, 78), (90.71, 78), (91.02, 81), (91.33, 83),
    (91.56, 93), (91.71, 80), (91.94, 85), (92.25, 86), (92.48, 83), (92.53, 65), (92.61, 0), (92.71, 0),
    (92.79, 80), (92.87, 0), (92.94, 65), (93.02, 0), (93.10, 80), (93.18, 0), (93.50, 0),
]

# (minute, metres)
altitude = [
    (0.00, 282), (0.07, 312), (0.61, 315), (1.22, 315), (1.84, 313), (2.45, 315), (2.91, 317), (3.38, 324),
    (3.84, 328), (4.30, 330), (4.76, 333), (5.22, 335), (5.68, 334), (6.14, 332), (6.61, 326), (7.07, 322),
    (7.53, 317), (7.99, 315), (8.61, 314), (9.22, 314), (9.84, 312), (10.45, 309), (10.84, 311), (11.22, 305),
    (11.68, 300), (12.14, 297), (12.61, 295), (12.91, 292), (13.22, 286), (13.53, 276), (13.84, 264), (14.14, 258),
    (14.61, 246), (14.91, 238), (15.38, 234), (15.84, 228), (16.30, 220), (16.76, 211), (17.22, 207), (17.84, 203),
    (18.61, 203), (19.38, 204), (19.84, 205), (20.30, 209), (20.68, 205), (21.22, 203), (21.84, 204), (22.45, 203),
    (23.50, 202), (27.63, 203), (28.86, 220), (30.40, 240), (31.94, 259), (33.17, 276), (33.79, 286), (34.56, 297),
    (35.02, 297), (35.48, 301), (35.94, 299), (36.56, 295), (37.17, 293), (37.79, 289), (38.40, 279), (38.71, 276),
    (39.48, 275), (39.79, 269), (40.25, 253), (40.71, 233), (41.17, 216), (41.63, 207), (42.09, 202), (43.33, 203),
    (43.63, 204), (44.25, 203), (44.71, 210), (45.33, 216), (45.94, 223), (46.81, 233), (47.58, 243), (48.35, 253),
    (49.12, 263), (49.73, 272), (50.35, 278), (50.96, 282), (51.58, 287), (52.19, 291), (52.81, 292), (53.42, 295),
    (54.04, 296), (54.66, 299), (54.96, 300), (55.27, 295), (55.89, 293), (56.19, 292), (56.81, 287), (57.42, 279),
    (57.89, 272), (58.35, 259), (58.81, 240), (59.27, 220), (59.58, 210), (59.89, 205), (60.66, 204), (61.42, 203),
    (62.96, 203), (64.50, 203), (66.04, 203), (66.73, 207), (67.12, 203), (68.35, 203), (69.12, 204), (70.16, 204),
    (70.71, 203), (71.33, 203), (72.87, 204), (74.41, 207), (75.94, 208), (77.48, 209), (79.02, 208), (80.56, 209),
    (82.10, 210), (83.64, 211), (85.18, 213), (85.94, 223), (86.71, 230), (87.48, 236), (88.25, 243), (89.02, 251),
    (89.79, 263), (90.56, 279), (91.33, 295), (92.10, 305), (92.87, 309), (93.50, 309),
]

# (minute, km/h)
speed = [
    (0.00, 14.1), (0.02, 15.3), (0.07, 20.2), (0.30, 21.9), (0.61, 23.3), (0.84, 21.4), (0.91, 20.2), (0.99, 6.8),
    (1.04, 3.9), (1.10, 14.1), (1.19, 16.5), (1.30, 27.4), (1.53, 28.7), (1.76, 29.1), (1.91, 29.9), (2.07, 27.4),
    (2.22, 24.3), (2.45, 26.7), (2.76, 26.2), (2.94, 26.2), (3.07, 20.2), (3.30, 18.5), (3.53, 19.4), (3.76, 18.5),
    (3.91, 22.6), (4.14, 25.0), (4.45, 24.3), (4.68, 22.6), (4.99, 20.9), (5.30, 18.9), (5.45, 17.7), (5.53, 20.9),
    (5.61, 17.7), (5.68, 21.9), (5.76, 16.5), (5.84, 21.4), (5.91, 9.2), (6.02, 0.0), (6.14, 11.7), (6.30, 32.3),
    (6.45, 39.6), (6.68, 41.3), (6.91, 40.8), (7.22, 40.8), (7.45, 40.3), (7.53, 27.4), (7.68, 26.2), (7.84, 28.7),
    (8.07, 33.5), (8.30, 32.3), (8.53, 33.0), (8.76, 31.1), (8.84, 20.2), (8.91, 11.7), (8.99, 20.2), (9.14, 28.7),
    (9.38, 34.7), (9.53, 35.9), (9.65, 14.1), (9.76, 0.0), (9.99, 11.7), (10.14, 32.3), (10.45, 34.7), (10.76, 34.0),
    (10.84, 28.7), (10.99, 38.4), (11.22, 39.6), (11.53, 39.6), (11.68, 38.4), (11.76, 28.7), (11.91, 35.5),
    (12.30, 35.5), (12.61, 35.9), (12.84, 37.2), (12.91, 26.2), (13.07, 42.0), (13.30, 43.2), (13.53, 45.7),
    (13.65, 48.8), (13.76, 40.8), (13.91, 32.3), (14.07, 26.2), (14.22, 42.0), (14.38, 45.7), (14.53, 47.6),
    (14.68, 38.4), (14.84, 11.2), (14.99, 26.2), (15.22, 31.6), (15.45, 39.6), (15.61, 40.8), (15.76, 38.4),
    (15.91, 29.9), (16.07, 39.6), (16.18, 40.8), (16.30, 31.1), (16.53, 28.7), (16.68, 23.8), (16.79, 4.4),
    (16.91, 14.1), (17.07, 30.6), (17.30, 31.6), (17.53, 33.5), (17.76, 35.5), (17.99, 34.0), (18.30, 33.0),
    (18.76, 32.3), (19.22, 31.6), (19.68, 30.6), (19.91, 28.7), (20.07, 23.3), (20.22, 26.2), (20.38, 17.0),
    (20.53, 27.4), (20.68, 33.5), (20.91, 33.0), (21.38, 31.6), (21.61, 31.1), (21.76, 18.5), (21.91, 28.7),
    (22.14, 31.6), (22.45, 33.0), (22.91, 33.5), (23.50, 34.0),
    (23.63, 33.5), (23.86, 34.0), (24.09, 31.1), (24.25, 34.7), (24.48, 33.5), (24.71, 32.3), (24.86, 26.2),
    (25.02, 24.3), (25.17, 26.2), (25.40, 27.4), (25.48, 29.1), (25.56, 23.8), (25.63, 30.6), (25.79, 31.6),
    (25.94, 32.3), (25.97, 25.0), (26.09, 29.9), (26.40, 29.9), (26.71, 29.9), (27.02, 29.6), (27.33, 29.9),
    (27.48, 27.4), (27.63, 23.8), (27.86, 20.2), (28.09, 17.7), (28.40, 16.5), (28.71, 14.6), (28.94, 14.1),
    (29.09, 11.2), (29.40, 9.7), (29.71, 9.2), (30.02, 9.7), (30.40, 9.7), (30.71, 9.2), (31.09, 9.2), (31.48, 9.7),
    (31.79, 10.4), (32.09, 11.2), (32.25, 16.5), (32.40, 21.4), (32.63, 20.2), (32.86, 17.7), (33.02, 13.6),
    (33.17, 16.5), (33.33, 14.1), (33.48, 14.1), (33.79, 12.9), (34.02, 7.3), (34.17, 11.7), (34.40, 12.9),
    (34.56, 20.2), (34.71, 26.2), (34.86, 28.7), (35.02, 25.0), (35.17, 21.4), (35.33, 22.6), (35.48, 27.4),
    (35.63, 32.3), (35.86, 35.5), (36.09, 35.9), (36.33, 37.2), (36.56, 38.4), (36.71, 32.3), (36.94, 33.5),
    (37.25, 34.0), (37.48, 35.9), (37.71, 38.4), (37.94, 39.6), (38.17, 38.9), (38.33, 40.8), (38.40, 44.5),
    (38.56, 40.8), (38.79, 33.5), (39.02, 31.1), (39.17, 31.6), (39.40, 32.3), (39.56, 33.5), (39.63, 44.5),
    (39.71, 49.3), (39.86, 46.9), (40.09, 42.8), (40.25, 42.0), (40.40, 25.0), (40.56, 43.2), (40.71, 44.5),
    (40.86, 28.7), (41.02, 21.9), (41.17, 7.3), (41.33, 23.8), (41.40, 29.9), (41.56, 16.5), (41.71, 14.1),
    (41.79, 12.9), (41.91, 0.0), (42.09, 1.9), (42.48, 5.6), (42.71, 23.3), (42.94, 26.2), (43.17, 26.2),
    (43.33, 17.7), (43.48, 22.6), (43.63, 31.6), (43.86, 31.1), (44.09, 29.1), (44.40, 28.7), (44.56, 16.5),
    (44.71, 14.1), (44.86, 20.2), (45.02, 14.1), (45.25, 11.2), (45.48, 9.7), (45.79, 9.7), (46.09, 10.2),
    (46.50, 9.7), (46.96, 9.2), (47.27, 9.7), (47.58, 9.2), (47.89, 10.4), (48.19, 9.2), (48.50, 9.7), (48.96, 10.4),
    (49.42, 11.7), (49.61, 11.2), (49.70, 18.5), (50.04, 18.9), (50.27, 17.7), (50.50, 16.5), (50.81, 18.5),
    (51.12, 20.2), (51.42, 21.4), (51.73, 22.6), (52.12, 21.9), (52.35, 24.3), (52.66, 26.2), (52.96, 25.7),
    (53.19, 25.0), (53.35, 22.6), (53.73, 22.6), (54.19, 24.3), (54.50, 25.7), (54.81, 23.8), (54.96, 29.9),
    (55.19, 32.3), (55.42, 31.1), (55.58, 28.7), (55.70, 35.5), (55.89, 35.9), (56.12, 33.0), (56.27, 44.5),
    (56.42, 39.6), (56.58, 40.8), (56.73, 35.9), (56.89, 25.7), (56.96, 11.7), (57.09, 26.2), (57.24, 38.4),
    (57.42, 36.4), (57.58, 28.7), (57.73, 27.4), (57.81, 31.1), (57.92, 18.9), (58.04, 31.1), (58.19, 26.2),
    (58.35, 35.5), (58.50, 32.3), (58.66, 35.9), (58.81, 31.1), (58.93, 43.2), (59.12, 35.5), (59.27, 33.0),
    (59.42, 32.3), (59.58, 21.4), (59.73, 33.0), (60.04, 32.3), (60.35, 28.7), (60.66, 31.6), (60.96, 29.1),
    (61.27, 28.2), (61.58, 28.7), (61.66, 32.3), (61.81, 28.2), (62.04, 31.1), (62.19, 26.2), (62.50, 31.1),
    (62.73, 33.0), (62.96, 24.3), (63.12, 34.7), (63.42, 34.7), (63.89, 34.0), (64.35, 33.5), (64.81, 33.5),
    (65.12, 33.0), (65.27, 21.4), (65.42, 33.0), (65.73, 33.5), (66.04, 33.5), (66.35, 33.0), (66.50, 26.2),
    (66.66, 16.5), (66.81, 23.8), (66.96, 33.5), (67.27, 34.7), (67.58, 34.0), (67.89, 34.0), (68.35, 34.0),
    (68.81, 34.0), (69.04, 29.1), (69.27, 28.7), (69.58, 28.7), (69.89, 27.4), (70.04, 20.2),
    (70.17, 29.9), (70.41, 31.6), (70.64, 30.6), (70.87, 28.7), (71.10, 32.3), (71.18, 35.9), (71.33, 32.3),
    (71.45, 22.6), (71.64, 28.7), (71.94, 29.1), (72.25, 29.9), (72.56, 30.6), (72.87, 29.9), (73.17, 29.9),
    (73.48, 28.2), (73.79, 27.4), (73.94, 21.4), (74.02, 28.7), (74.14, 0.0), (74.56, 5.6), (74.71, 21.4),
    (74.94, 25.7), (75.33, 26.7), (75.79, 27.4), (76.25, 28.7), (76.71, 29.1), (77.25, 29.9), (77.41, 22.6),
    (77.56, 27.4), (77.94, 28.2), (78.25, 29.1), (78.56, 27.4), (78.71, 18.9), (78.87, 23.3), (79.02, 26.2),
    (79.17, 21.4), (79.33, 26.7), (79.48, 18.9), (79.64, 29.9), (79.94, 31.6), (80.41, 32.3), (80.56, 23.8),
    (80.71, 17.7), (80.87, 26.2), (81.18, 26.7), (81.48, 26.2), (81.79, 26.2), (82.10, 26.7), (82.18, 22.6),
    (82.33, 24.3), (82.48, 28.2), (82.79, 25.7), (83.02, 21.4), (83.10, 14.1), (83.25, 0.0), (83.33, 16.5),
    (83.48, 18.9), (83.64, 0.0), (84.10, 6.8), (84.18, 16.5), (84.41, 20.2), (84.71, 25.0), (85.02, 25.0),
    (85.18, 18.9), (85.48, 17.0), (85.79, 14.1), (86.10, 15.3), (86.41, 14.6), (86.71, 15.3), (87.18, 16.5),
    (87.64, 19.4), (87.94, 18.9), (88.25, 16.5), (88.41, 12.9), (88.64, 8.0), (88.79, 16.5), (89.02, 21.9),
    (89.25, 23.3), (89.41, 16.5), (89.56, 19.4), (89.79, 17.7), (90.10, 16.0), (90.41, 14.1), (90.71, 14.6),
    (91.02, 14.1), (91.33, 16.0), (91.64, 17.0), (91.94, 18.9), (92.25, 19.4), (92.48, 18.9), (92.71, 20.9),
    (92.87, 7.3), (92.94, 16.5), (93.10, 21.4), (93.25, 18.9), (93.41, 21.4), (93.50, 14.1),
]

# temperature changes: (minute, deg C), held until the next entry
temperature = [
    (0.00, 31), (0.96, 30), (1.01, 31), (1.42, 30), (1.87, 31), (1.94, 30), (6.53, 31), (14.88, 32), (15.45, 31),
    (16.68, 32), (17.53, 31), (20.53, 30), (21.87, 29), (24.20, 28), (26.48, 29), (26.56, 28), (26.62, 29),
    (29.97, 28), (34.43, 29), (35.91, 28), (37.76, 29), (38.14, 28), (38.76, 29), (43.05, 28), (51.61, 29),
    (52.30, 28), (60.09, 27), (62.78, 26), (66.38, 25), (67.35, 26), (67.99, 25), (70.22, 26), (76.17, 27),
    (76.33, 26), (77.25, 27), (81.17, 28), (83.10, 27), (83.20, 28), (83.33, 27), (83.53, 28), (93.54, 28),
]

# ------------------------------------------------------------------
W, H = 2310, 691
BG = '#f8f8f8'
X0, X1 = 55, 2300
TXT = '#9a9a9a'

fig = plt.figure(figsize=(W / 100, H / 100), dpi=100)
fig.patch.set_facecolor(BG)


def add_panel(top, bottom):
    ax = fig.add_axes([X0 / W, 1 - bottom / H, (X1 - X0) / W, (bottom - top) / H])
    ax.set_facecolor('none')
    for s in ax.spines.values():
        s.set_visible(False)
    ax.set_xticks([])
    ax.set_yticks([])
    ax.set_xlim(0, T_END)
    return ax


def set_limits(ax, vmin, vmax, h, pad_top, pad_bot):
    per_px = (vmax - vmin) / (h - pad_top - pad_bot)
    lo = vmin - pad_bot * per_px
    ax.set_ylim(lo, vmax + pad_top * per_px)
    return lo


def axis_text(top, bottom, name, hi, lo):
    fig.text(13 / W, 1 - (top + bottom) / 2 / H, name, rotation=90, ha='center', va='center',
             color='#ababab', fontsize=8.0)
    fig.text(48 / W, 1 - (top + 15) / H, hi, ha='right', va='baseline', color=TXT, fontsize=8.3)
    fig.text(48 / W, 1 - (bottom - 6) / H, lo, ha='right', va='baseline', color=TXT, fontsize=8.3)


def marker(ax):
    # faint double-edged cursor line: grey edge, near-white core
    ax.axvline(marker_t, color='#e9e9e9', lw=2.4, zorder=1.5)
    ax.axvline(marker_t, color='#fbfbfb', lw=0.9, zorder=1.6)


panels = [
    # name, top, bottom, data, line, fill, min, fmt, pads, width
    ('Power', 19, 113, power, '#8a69d6', '#efedf4', 0, '{:.0f}', (4, 1), 0.85),
    ('Heartrate', 207, 301, heartrate, '#e5587f', '#f6e9ed', None, '{:.0f}', (4, 0.5), 0.95),
    ('Cadence', 301, 395, cadence, '#ff4cf0', '#f7e9f7', 0, '{:.0f}', (3, 1), 0.85),
    ('Altitude', 395, 488, altitude, '#dadada', '#f0f0f0', None, '{:.0f}', (3.5, 0.5), 1.1),
    ('Speed', 505, 598, speed, '#6fc4ea', '#edf3f6', 0, None, (4, 1), 0.9),
]

for name, top, bottom, data, lc, fc, vmin, fmt, (pt, pb), lw in panels:
    ax = add_panel(top, bottom)
    t = np.array([d[0] for d in data])
    v = np.array([d[1] for d in data], dtype=float)
    lo_v = v.min() if vmin is None else vmin
    hi_v = v.max()
    base = set_limits(ax, lo_v, hi_v, bottom - top, pt, pb)
    ax.fill_between(t, base, v, color=fc, lw=0, zorder=1)
    marker(ax)
    ax.plot(t, v, color=lc, lw=lw, zorder=2)
    if name == 'Speed':
        axis_text(top, bottom, name, f'{hi_v:.1f}', f'{lo_v:.2f}')
    else:
        axis_text(top, bottom, name, fmt.format(hi_v), fmt.format(lo_v))

# 30s power with zone bands
ax = add_panel(113, 207)
t30 = np.array([d[0] for d in power30])
w30 = np.array([d[1] for d in power30], dtype=float)
base = set_limits(ax, 0, w30.max(), 94, 3, 1)
edges = [base - 10] + zone_top + [w30.max() * 2]
zfill = ['#a9dccf', '#b1dfa8', '#fbe6a5', '#f9d3b1', '#eeabbb', '#cbbbe7']
zline = ['#2fa596', '#35a536', '#f3c11d', '#f0873a', '#e03f5d', '#7b59d0']
marker(ax)
for lo, hi, fcol, lcol in zip(edges[:-1], edges[1:], zfill, zline):
    clip = Rectangle((-1, lo), T_END + 2, hi - lo, transform=ax.transData)
    poly = ax.fill_between(t30, base, w30, color=fcol, lw=0, zorder=1)
    poly.set_clip_path(clip)
    ln, = ax.plot(t30, w30, color=lcol, lw=1.05, zorder=2)
    ln.set_clip_path(clip)
axis_text(113, 207, '30s Power', f'{w30.max():.0f}', '0')

# temperature steps
ax = add_panel(598, 691)
tt = np.array([d[0] for d in temperature])
tv = np.array([d[1] for d in temperature], dtype=float)
base = set_limits(ax, tv.min(), tv.max(), 93, 4.5, 0)
ax.fill_between(tt, base, tv, step='post', color='#f4f3ee', lw=0, zorder=1)
marker(ax)
ax.step(tt, tv, where='post', color='#d8d2a6', lw=1.5, zorder=2)
axis_text(598, 691, 'Temp', f'{tv.max():.1f}', f'{tv.min():.1f}')

# lap strip
ax = add_panel(488, 505)
ax.set_ylim(0, 1)
marker(ax)
for end, name in zip(lap_end, lap_names):
    ax.axvline(end, color='#e0e0e0', lw=2.0, zorder=1)
    ax.text(end - 0.18, 0.45, name, ha='right', va='center', color=TXT, fontsize=8.8)

# separators and frame
for y in [19, 113, 207, 301, 395, 488, 505, 598]:
    fig.add_artist(Line2D([24 / W, X1 / W], [1 - y / H, 1 - y / H], color='#ebebeb', lw=1.5, zorder=0))
fig.add_artist(Line2D([X0 / W, X0 / W], [0, 1], color='#ececec', lw=1.2, zorder=0))
fig.add_artist(Line2D([X1 / W, X1 / W], [0, 1 - 19 / H], color='#ececec', lw=1.0, zorder=0))

# cursor label on top
mx = (X0 + marker_t / T_END * (X1 - X0)) / W
fig.add_artist(Line2D([mx, mx], [1 - 19 / H, 1 - 16 / H], color='#e9e9e9', lw=2.4))
box = FancyBboxPatch((mx - 25 / W, 1 - 17 / H), 50 / W, 24 / H,
                     boxstyle='round,pad=0,rounding_size=0.003',
                     transform=fig.transFigure, facecolor='white', edgecolor='#e6e6e6', lw=1.0)
fig.add_artist(box)
fig.text(mx, 1 - 8 / H, marker_text, ha='center', va='center', color='#f21ef0', fontsize=8.4)

fig.savefig('out.png', dpi=100, facecolor=BG)
